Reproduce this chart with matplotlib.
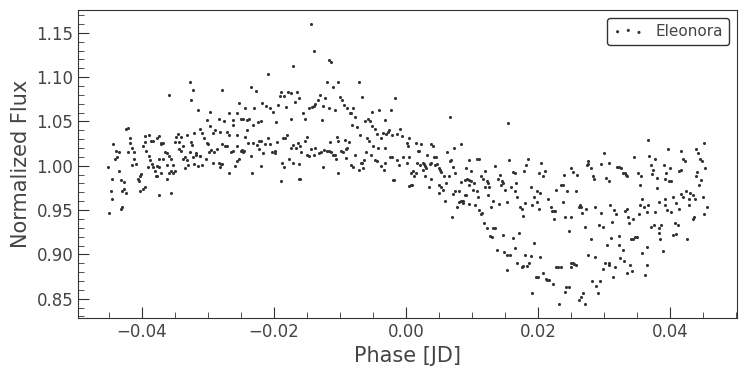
import numpy as np
import matplotlib
matplotlib.use("Agg")
import matplotlib.pyplot as plt
from matplotlib.ticker import AutoMinorLocator

# folded light curve (phase in JD, normalized flux)
phase_a = [-0.0423, -0.0420, -0.0444, -0.0439, -0.0435, -0.0441, -0.0438, -0.0451, -0.0435, -0.0445,
           -0.0432, -0.0426, -0.0447, -0.0427, -0.0429, -0.0424, -0.0445, -0.0429, -0.0432, -0.0450,
           -0.0418, -0.0417, -0.0415, -0.0420, -0.0411, -0.0412, -0.0409, -0.0414, -0.0401, -0.0403,
           -0.0406, -0.0404, -0.0395, -0.0398, -0.0403, -0.0395, -0.0389, -0.0395, -0.0398, -0.0394,
           -0.0386, -0.0383, -0.0389, -0.0388, -0.0385, -0.0391, -0.0383, -0.0380, -0.0379, -0.0377,
           -0.0374, -0.0376, -0.0370, -0.0367, -0.0371, -0.0374, -0.0368, -0.0377, -0.0373, -0.0371,
           -0.0374, -0.0365, -0.0362, -0.0359, -0.0355, -0.0361, -0.0359, -0.0362, -0.0356, -0.0352,
           -0.0350, -0.0353, -0.0356, -0.0345, -0.0348, -0.0341, -0.0350, -0.0344, -0.0338, -0.0344,
           -0.0341, -0.0335, -0.0332, -0.0338, -0.0335, -0.0330, -0.0332, -0.0326, -0.0324, -0.0327,
           -0.0320, -0.0312, -0.0308, -0.0305, -0.0301, -0.0300, -0.0318, -0.0317, -0.0312, -0.0311,
           -0.0323, -0.0320, -0.0314, -0.0308, -0.0303, -0.0298, -0.0295, -0.0291, -0.0286, -0.0292,
           -0.0283, -0.0280, -0.0282, -0.0292, -0.0289, -0.0282, -0.0297, -0.0301, -0.0283, -0.0297,
           -0.0315, -0.0327, -0.0323, -0.0326, -0.0358]
flux_a = [1.042, 1.043, 1.024, 1.017, 1.015, 1.008, 1.010, 0.999, 0.994, 0.985,
          0.984, 0.982, 0.972, 0.974, 0.972, 0.969, 0.963, 0.954, 0.951, 0.947,
          1.031, 1.026, 1.020, 1.015, 1.015, 1.008, 1.002, 1.001, 0.991, 0.989,
          0.985, 0.983, 0.976, 0.974, 0.971, 1.034, 1.035, 1.027, 1.022, 1.017,
          1.028, 1.028, 1.011, 1.006, 1.002, 0.999, 0.999, 0.994, 0.989, 0.988,
          1.034, 1.031, 1.024, 1.026, 1.026, 1.008, 1.008, 1.000, 0.999, 0.992,
          0.967, 1.016, 1.014, 1.011, 1.008, 1.001, 0.992, 0.985, 0.994, 1.001,
          0.994, 0.992, 0.969, 1.036, 1.033, 1.032, 1.027, 1.027, 1.022, 1.019,
          1.017, 1.010, 1.007, 1.008, 0.997, 1.001, 1.035, 1.027, 1.023, 1.015,
          1.037, 1.042, 1.037, 1.031, 1.026, 1.024, 1.014, 1.012, 1.011, 1.011,
          1.010, 1.002, 1.000, 1.001, 1.008, 1.015, 1.018, 1.015, 1.019, 1.003,
          1.003, 1.002, 0.999, 1.037, 1.040, 1.038, 1.045, 1.052, 1.053, 1.061,
          1.063, 1.095, 1.086, 1.074, 1.080]

phase_b = [-0.0208, -0.0171, -0.0279, -0.0235, -0.0227, -0.0189, -0.0191, -0.0185, -0.0179, -0.0174,
           -0.0165, -0.0162, -0.0168, -0.0218, -0.0211, -0.0205, -0.0201, -0.0194, -0.0182, -0.0253,
           -0.0244, -0.0230, -0.0267, -0.0256, -0.0250, -0.0247, -0.0241, -0.0238, -0.0232, -0.0224,
           -0.0220, -0.0276, -0.0262, -0.0261, -0.0271, -0.0268, -0.0255, -0.0241, -0.0244, -0.0197,
           -0.0174, -0.0279, -0.0274, -0.0271, -0.0265, -0.0262, -0.0255, -0.0239, -0.0232, -0.0248,
           -0.0245, -0.0247, -0.0250, -0.0226, -0.0223, -0.0220, -0.0223, -0.0217, -0.0214, -0.0208,
           -0.0205, -0.0203, -0.0198, -0.0198, -0.0195, -0.0186, -0.0183, -0.0180, -0.0174, -0.0171,
           -0.0167, -0.0164, -0.0279, -0.0268, -0.0259, -0.0256, -0.0253, -0.0235, -0.0233, -0.0220,
           -0.0189, -0.0188, -0.0185, -0.0177, -0.0171, -0.0162, -0.0162]
flux_b = [1.104, 1.113, 1.085, 1.089, 1.084, 1.083, 1.079, 1.079, 1.083, 1.082,
          1.083, 1.077, 1.072, 1.071, 1.068, 1.065, 1.061, 1.069, 1.066, 1.071,
          1.065, 1.065, 1.060, 1.060, 1.053, 1.053, 1.052, 1.053, 1.046, 1.049,
          1.051, 1.051, 1.052, 1.046, 1.038, 1.035, 1.035, 1.040, 1.033, 1.049,
          1.053, 1.025, 1.022, 1.022, 1.015, 1.017, 1.022, 1.026, 1.026, 1.018,
          1.017, 1.015, 1.017, 1.023, 1.028, 1.028, 1.019, 1.014, 1.024, 1.031,
          1.024, 1.016, 1.014, 1.017, 1.027, 1.031, 1.031, 1.035, 1.020, 1.023,
          1.020, 1.026, 1.002, 0.992, 1.000, 1.005, 1.008, 1.011, 0.992, 1.000,
          0.983, 1.003, 0.999, 1.008, 1.003, 1.002, 0.985]

phase_c = [-0.0144, -0.0139, -0.0117, -0.0114, -0.0120, -0.0103, -0.0111, -0.0071, -0.0067, -0.0017,
           -0.0023, -0.0041, -0.0052, -0.0130, -0.0123, -0.0133, -0.0138, -0.0142, -0.0139, -0.0147,
           -0.0156, -0.0153, -0.0126, -0.0127, -0.0117, -0.0108, -0.0100, -0.0097, -0.0094, -0.0089,
           -0.0085, -0.0080, -0.0083, -0.0077, -0.0082, -0.0074, -0.0070, -0.0062, -0.0058, -0.0055,
           -0.0052, -0.0047, -0.0044, -0.0038, -0.0035, -0.0030, -0.0027, -0.0026, -0.0032, -0.0021,
           -0.0014, -0.0009, -0.0006, -0.0161, -0.0159, -0.0153, -0.0150, -0.0150, -0.0147, -0.0144,
           -0.0139, -0.0138, -0.0132, -0.0129, -0.0126, -0.0124, -0.0120, -0.0117, -0.0114, -0.0111,
           -0.0108, -0.0106, -0.0115, -0.0105, -0.0102, -0.0102, -0.0098, -0.0095, -0.0092, -0.0091,
           -0.0089, -0.0086, -0.0091, -0.0083, -0.0080, -0.0077, -0.0071, -0.0068, -0.0067, -0.0065,
           -0.0064, -0.0061, -0.0059, -0.0056, -0.0053, -0.0050, -0.0047, -0.0044, -0.0042, -0.0038,
           -0.0033, -0.0032, -0.0032, -0.0024, -0.0021, -0.0020, -0.0018, -0.0014, -0.0011, -0.0005,
           0.0002, 0.0005, -0.0161, 0.0005, 0.0002, 0.0005, 0.0003]
flux_c = [1.160, 1.129, 1.119, 1.117, 1.094, 1.094, 1.089, 1.095, 1.078, 1.077,
          1.063, 1.063, 1.061, 1.080, 1.077, 1.074, 1.070, 1.066, 1.067, 1.065,
          1.060, 1.053, 1.068, 1.052, 1.065, 1.063, 1.078, 1.074, 1.069, 1.065,
          1.060, 1.065, 1.059, 1.055, 1.046, 1.044, 1.035, 1.050, 1.053, 1.050,
          1.045, 1.042, 1.036, 1.031, 1.037, 1.036, 1.038, 1.040, 1.052, 1.035,
          1.036, 1.041, 1.034, 1.022, 1.015, 1.028, 1.033, 1.012, 1.011, 1.019,
          1.012, 1.020, 1.014, 1.015, 0.999, 1.018, 1.017, 1.017, 1.015, 1.012,
          1.012, 1.008, 1.027, 1.032, 1.028, 0.992, 1.017, 1.015, 1.029, 1.019,
          1.020, 1.027, 1.009, 1.001, 0.999, 1.012, 0.995, 1.003, 1.003, 0.998,
          1.006, 1.016, 1.031, 1.028, 1.012, 1.022, 1.007, 1.005, 1.020, 1.000,
          0.995, 1.020, 1.003, 1.010, 1.010, 0.984, 0.984, 1.006, 1.001, 1.010,
          1.003, 1.010, 0.985, 0.977, 1.026, 1.031, 1.022]

phase_d = [0.0015, 0.0018, 0.0020, 0.0023, 0.0017, 0.0021, 0.0026, 0.0027, 0.0029, 0.0030,
           0.0026, 0.0032, 0.0036, 0.0038, 0.0038, 0.0041, 0.0042, 0.0045, 0.0044, 0.0047,
           0.0050, 0.0052, 0.0053, 0.0029, 0.0038, 0.0035, 0.0058, 0.0008, 0.0011, 0.0012,
           0.0015, 0.0008, 0.0009, 0.0050, 0.0053, 0.0056, 0.0050, 0.0061, 0.0059, 0.0065,
           0.0062, 0.0067, 0.0067, 0.0068, 0.0071, 0.0073, 0.0074, 0.0071, 0.0074, 0.0077,
           0.0080, 0.0080, 0.0083, 0.0085, 0.0086, 0.0086, 0.0083, 0.0083, 0.0089, 0.0089,
           0.0070]
flux_d = [1.026, 1.017, 1.017, 1.024, 1.003, 1.001, 1.003, 1.002, 1.000, 0.998,
          0.995, 1.012, 1.002, 1.003, 1.024, 1.022, 1.010, 1.010, 1.001, 1.002,
          0.998, 0.995, 0.993, 0.988, 0.985, 0.976, 0.988, 0.992, 0.994, 0.988,
          0.992, 0.978, 0.978, 0.978, 0.976, 0.973, 0.969, 0.981, 0.960, 0.988,
          1.015, 1.055, 1.005, 1.006, 0.999, 1.020, 0.992, 0.968, 0.972, 0.954,
          0.972, 0.959, 0.960, 0.960, 0.960, 0.958, 1.025, 0.982, 0.984, 0.967,
          0.942]

phase_e = [0.0155, 0.0095, 0.0091, 0.0098, 0.0108, 0.0111, 0.0092, 0.0095, 0.0098, 0.0095,
           0.0103, 0.0102, 0.0108, 0.0105, 0.0091, 0.0095, 0.0109, 0.0111, 0.0114, 0.0115,
           0.0114, 0.0117, 0.0120, 0.0123, 0.0120, 0.0124, 0.0126, 0.0124, 0.0129, 0.0132,
           0.0135, 0.0118, 0.0123, 0.0132, 0.0135, 0.0127, 0.0130, 0.0138, 0.0139, 0.0142,
           0.0144, 0.0145, 0.0147, 0.0141, 0.0147, 0.0150, 0.0153, 0.0148, 0.0153, 0.0158,
           0.0153, 0.0156, 0.0159, 0.0162, 0.0165, 0.0167, 0.0165, 0.0168, 0.0162, 0.0165,
           0.0171, 0.0168, 0.0173, 0.0176, 0.0177, 0.0180, 0.0179, 0.0182, 0.0185, 0.0180,
           0.0176, 0.0177, 0.0183, 0.0186, 0.0189, 0.0191, 0.0189, 0.0191, 0.0194, 0.0198,
           0.0198, 0.0201, 0.0205, 0.0208, 0.0211, 0.0203, 0.0201, 0.0194, 0.0203, 0.0197,
           0.0200, 0.0208, 0.0212, 0.0214, 0.0217, 0.0223, 0.0215, 0.0220, 0.0221, 0.0224,
           0.0226, 0.0224, 0.0227, 0.0230, 0.0227, 0.0235, 0.0232, 0.0235, 0.0238, 0.0239,
           0.0238, 0.0241, 0.0244, 0.0247, 0.0241, 0.0242, 0.0247, 0.0250, 0.0253, 0.0250,
           0.0250, 0.0253, 0.0255, 0.0258, 0.0250, 0.0259, 0.0258, 0.0262, 0.0264, 0.0265,
           0.0267, 0.0262, 0.0265, 0.0268, 0.0271, 0.0273, 0.0271, 0.0274]
flux_e = [1.048, 1.006, 0.997, 0.994, 1.008, 1.008, 0.985, 0.984, 0.983, 0.978,
          0.980, 0.973, 0.971, 0.956, 0.967, 0.957, 0.965, 0.950, 0.945, 0.947,
          0.988, 0.985, 0.994, 0.983, 0.976, 0.980, 0.976, 0.967, 0.954, 0.960,
          1.000, 0.935, 0.930, 0.930, 0.930, 0.921, 0.920, 0.905, 0.985, 0.990,
          0.978, 0.983, 0.981, 0.957, 0.922, 0.973, 0.959, 0.903, 0.899, 0.899,
          0.882, 1.007, 0.976, 0.993, 0.992, 0.980, 0.972, 0.965, 0.918, 0.907,
          0.924, 0.890, 0.954, 0.951, 0.943, 0.958, 0.994, 1.001, 1.008, 0.899,
          0.886, 0.887, 0.887, 0.890, 0.898, 0.856, 0.976, 0.956, 0.965, 0.959,
          0.972, 0.992, 1.003, 0.988, 0.994, 0.969, 0.951, 0.913, 0.897, 0.875,
          0.874, 0.879, 0.872, 0.871, 0.871, 0.866, 0.963, 0.954, 0.949, 0.949,
          0.949, 0.940, 0.973, 0.886, 0.886, 0.886, 0.844, 0.978, 0.978, 0.990,
          0.959, 0.942, 0.972, 0.926, 0.858, 0.863, 0.863, 0.997, 0.993, 0.942,
          0.890, 0.890, 0.889, 0.888, 0.886, 0.990, 0.972, 0.954, 0.956, 0.954,
          0.947, 0.849, 0.852, 0.856, 0.931, 0.951, 0.844, 1.001]

phase_f = [0.0367, 0.0451, 0.0397, 0.0417, 0.0439, 0.0442, 0.0300, 0.0345, 0.0368, 0.0377,
           0.0420, 0.0423, 0.0445, 0.0448, 0.0276, 0.0276, 0.0280, 0.0295, 0.0308, 0.0320,
           0.0323, 0.0326, 0.0329, 0.0332, 0.0333, 0.0335, 0.0283, 0.0285, 0.0303, 0.0308,
           0.0352, 0.0356, 0.0355, 0.0371, 0.0374, 0.0373, 0.0380, 0.0380, 0.0391, 0.0394,
           0.0400, 0.0392, 0.0398, 0.0401, 0.0414, 0.0417, 0.0441, 0.0439, 0.0453, 0.0447,
           0.0444, 0.0286, 0.0295, 0.0309, 0.0315, 0.0318, 0.0332, 0.0335, 0.0336, 0.0344,
           0.0338, 0.0312, 0.0292, 0.0298, 0.0358, 0.0355, 0.0361, 0.0367, 0.0365, 0.0353,
           0.0377, 0.0383, 0.0392, 0.0392, 0.0395, 0.0401, 0.0405, 0.0409, 0.0414, 0.0417,
           0.0420, 0.0424, 0.0429, 0.0430, 0.0435, 0.0429, 0.0438, 0.0450, 0.0456, 0.0436,
           0.0435, 0.0451, 0.0371, 0.0376, 0.0383, 0.0386, 0.0383, 0.0385, 0.0408, 0.0412,
           0.0389, 0.0405, 0.0409, 0.0426, 0.0280, 0.0311, 0.0323, 0.0341, 0.0344, 0.0347,
           0.0350, 0.0305, 0.0323, 0.0329, 0.0365, 0.0358, 0.0276, 0.0286, 0.0301, 0.0308,
           0.0308, 0.0317, 0.0324, 0.0330, 0.0339, 0.0298, 0.0342, 0.0335, 0.0314, 0.0362,
           0.0365, 0.0282, 0.0294, 0.0288, 0.0291]
flux_f = [1.029, 1.026, 1.019, 1.017, 1.019, 1.014, 1.014, 1.010, 1.011, 1.008,
          1.008, 1.005, 1.008, 1.005, 1.005, 1.002, 0.997, 1.002, 1.003, 0.999,
          0.999, 0.997, 0.992, 0.992, 0.990, 0.989, 0.989, 0.985, 0.986, 0.983,
          0.992, 0.988, 0.978, 1.001, 0.995, 0.991, 0.986, 0.975, 1.001, 0.992,
          0.997, 0.985, 0.983, 0.983, 0.994, 0.995, 0.993, 0.989, 0.997, 0.984,
          0.978, 0.954, 0.947, 0.956, 0.950, 0.945, 0.949, 0.951, 0.942, 0.940,
          0.935, 0.937, 0.933, 0.931, 0.963, 0.956, 0.954, 0.956, 0.948, 0.945,
          0.948, 0.959, 0.963, 0.956, 0.950, 0.948, 0.965, 0.958, 0.951, 0.968,
          0.965, 0.972, 0.962, 0.969, 0.967, 0.956, 0.963, 0.965, 0.954, 0.942,
          0.940, 0.945, 0.931, 0.933, 0.930, 0.933, 0.924, 0.917, 0.935, 0.933,
          0.904, 0.922, 0.923, 0.917, 0.917, 0.918, 0.921, 0.917, 0.917, 0.920,
          0.920, 0.911, 0.911, 0.905, 0.908, 0.902, 0.899, 0.897, 0.890, 0.890,
          0.888, 0.886, 0.896, 0.892, 0.888, 0.883, 0.881, 0.879, 0.875, 0.877,
          0.888, 0.870, 0.870, 0.864, 0.856]

label = "Eleonora"
xlabel = "Phase [JD]"
ylabel = "Normalized Flux"

phase = np.concatenate([phase_a, phase_b, phase_c, phase_d, phase_e, phase_f])
flux = np.concatenate([flux_a, flux_b, flux_c, flux_d, flux_e, flux_f])

dark = "#333333"
plt.rcParams.update({
    "font.family": "DejaVu Sans",
    "xtick.direction": "in",
    "ytick.direction": "in",
    "xtick.major.size": 8,
    "ytick.major.size": 8,
    "xtick.minor.size": 4,
    "ytick.minor.size": 4,
    "xtick.color": dark,
    "ytick.color": dark,
    "xtick.labelcolor": "#444444",
    "ytick.labelcolor": "#444444",
    "axes.edgecolor": dark,
})

fig = plt.figure(figsize=(7.45, 3.76), dpi=100)
ax = fig.add_axes([0.1047, 0.1543, 0.8846, 0.8191])

ax.scatter(phase, flux, s=5, c=dark, linewidths=0, label=label)

ax.xaxis.set_minor_locator(AutoMinorLocator())
ax.yaxis.set_minor_locator(AutoMinorLocator())
ax.tick_params(labelsize=12)
ax.set_xlabel(xlabel, fontsize=15, color="#444444")
ax.set_ylabel(ylabel, fontsize=15, color="#444444")

leg = ax.legend(loc="upper right", scatterpoints=3, fontsize=11, frameon=True,
                fancybox=True, edgecolor=dark, framealpha=1.0)
for t in leg.get_texts():
    t.set_color("#444444")

fig.savefig("out.png", dpi=100)
